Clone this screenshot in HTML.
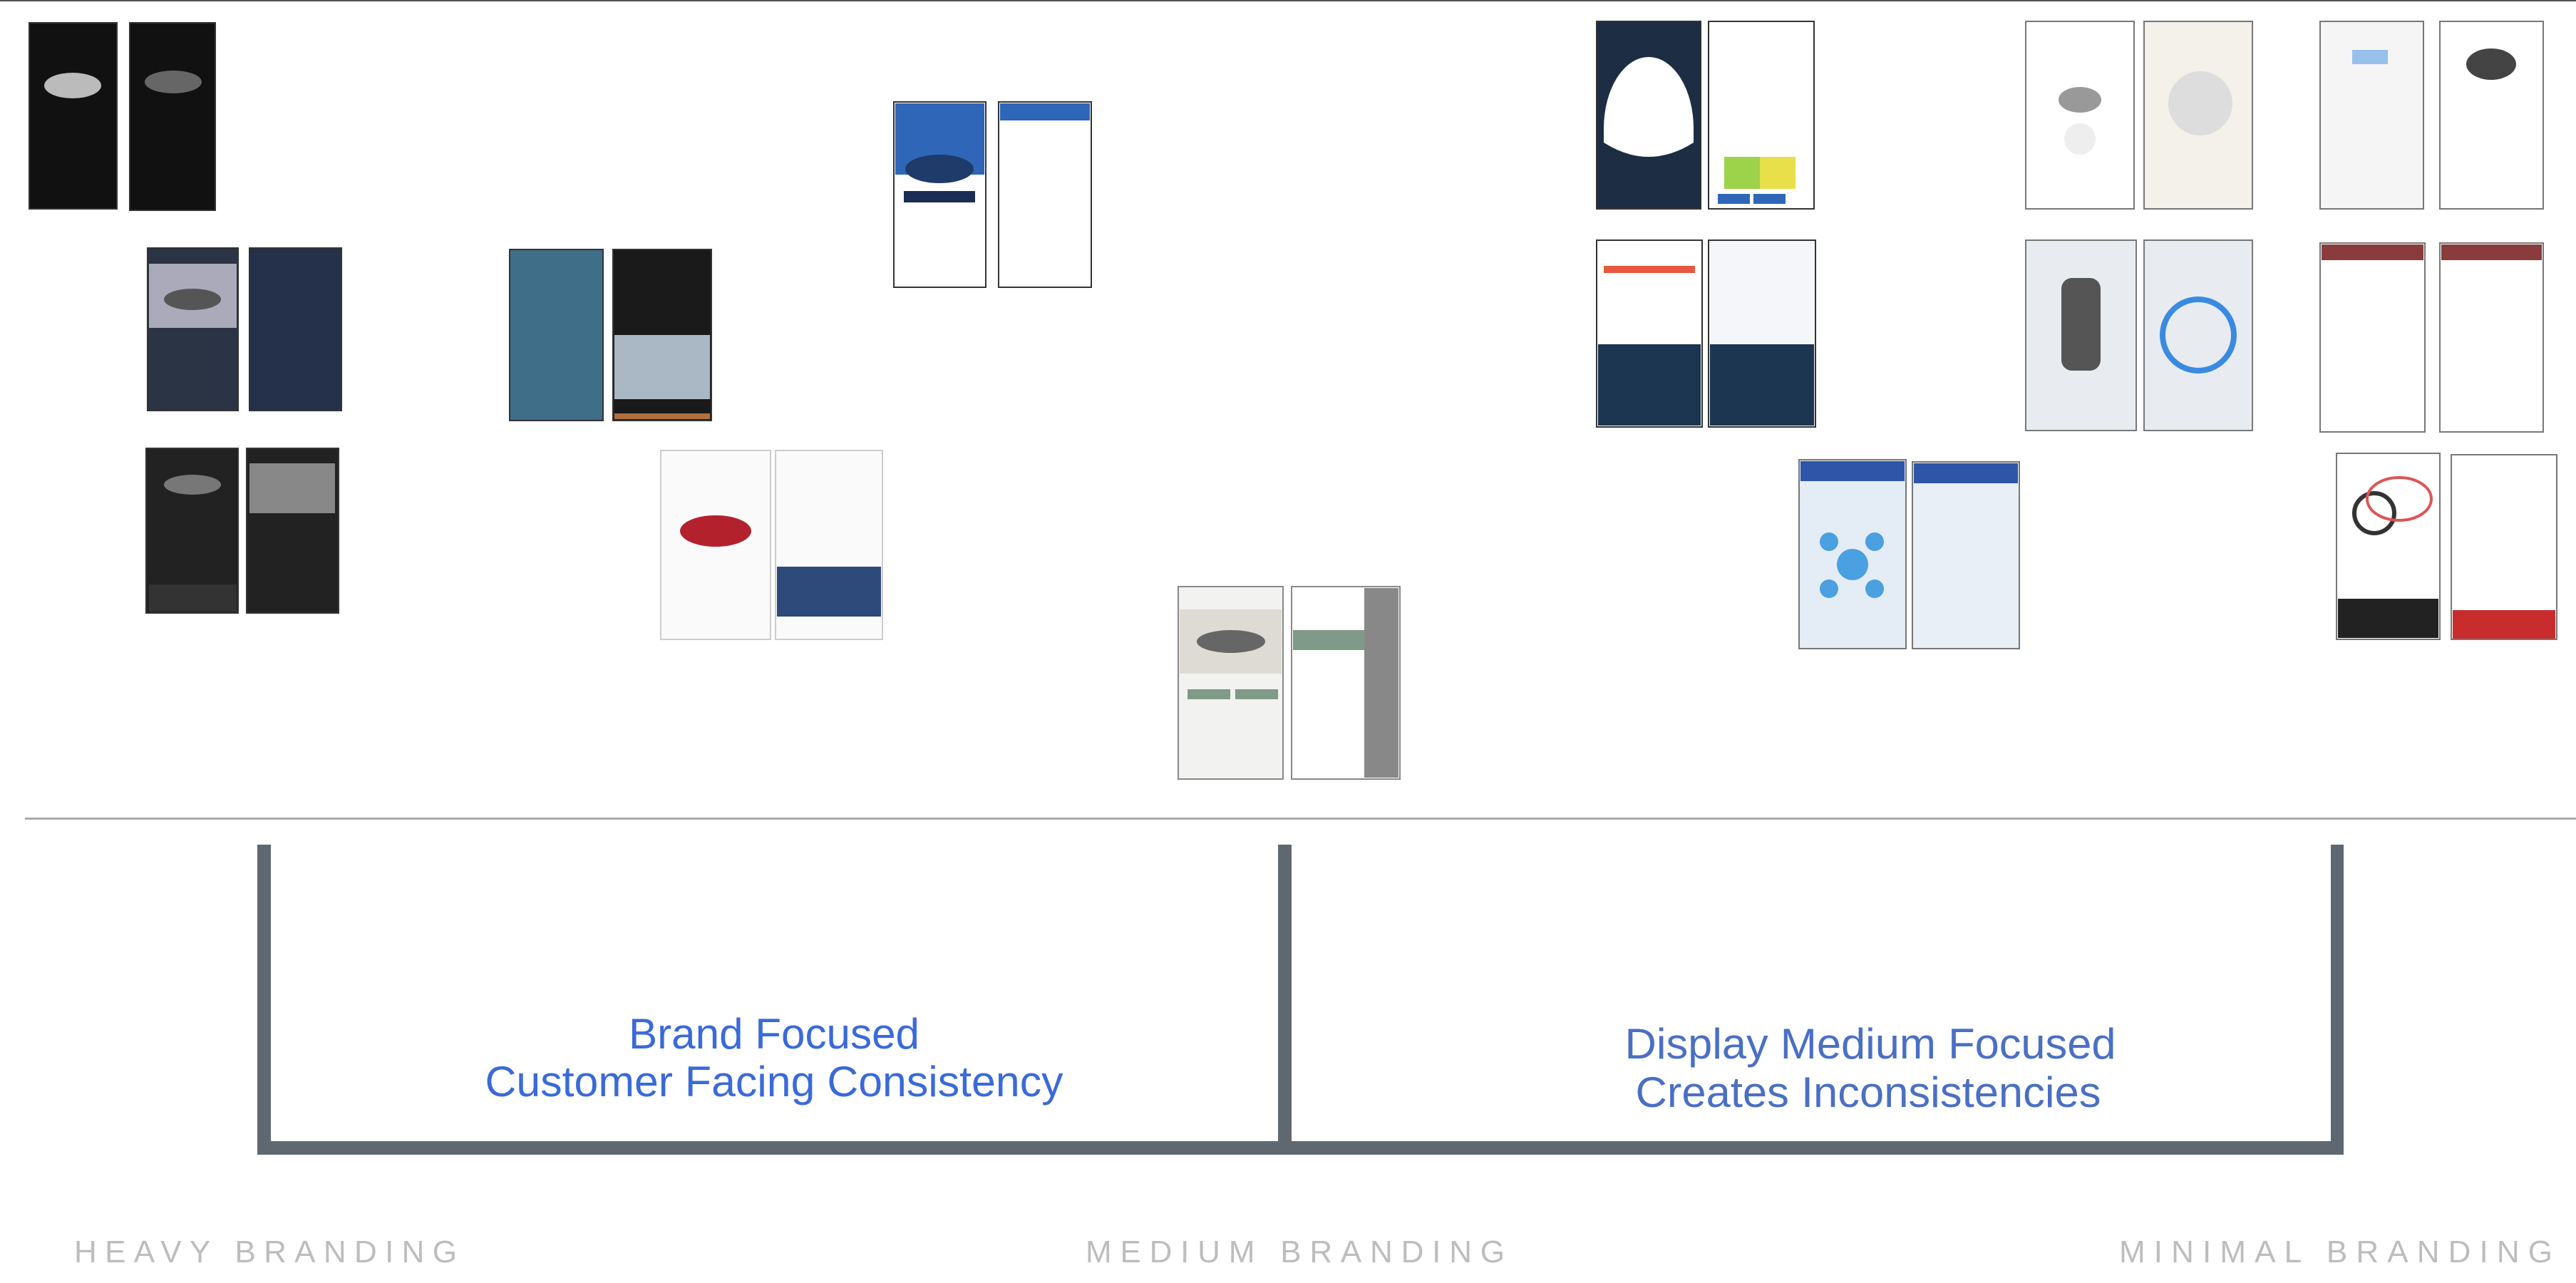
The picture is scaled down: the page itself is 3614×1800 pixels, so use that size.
<!DOCTYPE html>
<html><head><meta charset="utf-8"><style>
html,body{margin:0;padding:0;background:#fff;}
svg{display:block;}
text{font-family:"Liberation Sans",Arial,sans-serif;}
</style></head><body>
<svg width="3614" height="1800" viewBox="0 0 3614 1800" xmlns="http://www.w3.org/2000/svg">
<rect x="0" y="0" width="3614" height="1800" fill="#fff"/>
<rect x="0" y="0" width="3614" height="2" fill="#555"/>

<g stroke="#333" stroke-width="2">
<rect x="41" y="32" width="123" height="261" fill="#111"/>
<rect x="182" y="32" width="120" height="263" fill="#111"/>
<rect x="207" y="348" width="127" height="228" fill="#2b3444"/>
<rect x="350" y="348" width="129" height="228" fill="#25304a"/>
<rect x="715" y="350" width="131" height="240" fill="#3f6e88"/>
<rect x="860" y="350" width="138" height="240" fill="#1a1a1a"/>
<rect x="205" y="629" width="129" height="231" fill="#222"/>
<rect x="346" y="629" width="129" height="231" fill="#222"/>
<rect x="927" y="632" width="154" height="265" fill="#fafafa" stroke="#ccc"/>
<rect x="1088" y="632" width="150" height="265" fill="#fafafa" stroke="#ccc"/>
<rect x="1254" y="143" width="129" height="260" fill="#fff"/>
<rect x="1401" y="143" width="130" height="260" fill="#fff"/>
<rect x="1653" y="823" width="147" height="270" fill="#f2f2f0" stroke="#888"/>
<rect x="1812" y="823" width="152" height="270" fill="#fff" stroke="#888"/>
<rect x="2240" y="30" width="146" height="263" fill="#1c2d44"/>
<rect x="2397" y="30" width="148" height="263" fill="#fff"/>
<rect x="2842" y="30" width="152" height="263" fill="#fff" stroke="#777"/>
<rect x="3008" y="30" width="152" height="263" fill="#f3f1ea" stroke="#777"/>
<rect x="3255" y="30" width="145" height="263" fill="#f5f5f5" stroke="#777"/>
<rect x="3423" y="30" width="145" height="263" fill="#fff" stroke="#777"/>
<rect x="2240" y="337" width="148" height="262" fill="#fff"/>
<rect x="2397" y="337" width="150" height="262" fill="#f4f6f9"/>
<rect x="2842" y="337" width="155" height="267" fill="#e8ecf1" stroke="#777"/>
<rect x="3008" y="337" width="152" height="267" fill="#e8ecf1" stroke="#777"/>
<rect x="3255" y="341" width="147" height="265" fill="#fff" stroke="#777"/>
<rect x="3423" y="341" width="145" height="265" fill="#fff" stroke="#777"/>
<rect x="2524" y="645" width="150" height="265" fill="#e4ecf6" stroke="#777"/>
<rect x="2683" y="648" width="150" height="262" fill="#e8eff7" stroke="#777"/>
<rect x="3278" y="636" width="145" height="261" fill="#fff" stroke="#777"/>
<rect x="3439" y="638" width="148" height="259" fill="#fff" stroke="#777"/>
</g>
<g stroke="none">
<ellipse cx="102" cy="120" rx="40" ry="18" fill="#bbb"/>
<ellipse cx="243" cy="115" rx="40" ry="16" fill="#666"/>
<rect x="209" y="370" width="123" height="90" fill="#aab"/>
<ellipse cx="270" cy="420" rx="40" ry="15" fill="#555"/>
<rect x="209" y="820" width="123" height="38" fill="#333"/>
<ellipse cx="270" cy="680" rx="40" ry="14" fill="#777"/>
<rect x="350" y="650" width="120" height="70" fill="#888"/>
<rect x="862" y="470" width="134" height="90" fill="#aab8c6"/>
<rect x="862" y="580" width="134" height="8" fill="#b07040"/>
<ellipse cx="1004" cy="745" rx="50" ry="22" fill="#b3222c"/>
<rect x="1090" y="795" width="146" height="70" fill="#2e4a7a"/>
<rect x="1256" y="145" width="125" height="100" fill="#2f66b8"/>
<ellipse cx="1318" cy="237" rx="48" ry="20" fill="#1f3b6a"/>
<rect x="1268" y="268" width="100" height="16" fill="#1b2c55"/>
<rect x="1403" y="145" width="126" height="24" fill="#2f66b8"/>
<rect x="1655" y="855" width="143" height="90" fill="#dedad4"/>
<ellipse cx="1727" cy="900" rx="48" ry="16" fill="#666"/>
<rect x="1666" y="967" width="60" height="14" fill="#7f9a88"/>
<rect x="1733" y="967" width="60" height="14" fill="#7f9a88"/>
<rect x="1814" y="884" width="100" height="28" fill="#7f9a88"/>
<rect x="1914" y="825" width="48" height="266" fill="#888"/>
<path d="M2250 180 A63 100 0 1 1 2376 180 L2376 200 Q2313 240 2250 200 Z" fill="#fff"/>
<rect x="2419" y="220" width="50" height="45" fill="#9cd34a"/>
<rect x="2469" y="220" width="50" height="45" fill="#e8e04a"/>
<rect x="2410" y="272" width="45" height="14" fill="#2f66b8"/>
<rect x="2460" y="272" width="45" height="14" fill="#2f66b8"/>
<rect x="2242" y="483" width="144" height="114" fill="#1c3550"/>
<rect x="2399" y="483" width="146" height="114" fill="#1c3550"/>
<rect x="2250" y="373" width="128" height="10" fill="#e9573f"/>
<ellipse cx="2918" cy="140" rx="30" ry="18" fill="#999"/>
<circle cx="2918" cy="195" r="22" fill="#eee"/>
<circle cx="3087" cy="145" r="45" fill="#ddd"/>
<rect x="2892" y="390" width="55" height="130" rx="15" fill="#555"/>
<circle cx="3084" cy="470" r="50" fill="none" stroke="#3a8be0" stroke-width="8"/>
<rect x="3257" y="343" width="143" height="22" fill="#8a3c3c"/>
<rect x="3425" y="343" width="141" height="22" fill="#8a3c3c"/>
<circle cx="3331" cy="720" r="28" fill="none" stroke="#333" stroke-width="6"/>
<rect x="3280" y="840" width="141" height="55" fill="#222"/>
<rect x="3441" y="856" width="144" height="40" fill="#c82c2c"/>
<rect x="2526" y="647" width="146" height="28" fill="#2e55a8"/>
<rect x="2685" y="650" width="146" height="28" fill="#2e55a8"/>
<circle cx="2599" cy="792" r="22" fill="#4aa0e0"/>
<circle cx="2566" cy="760" r="13" fill="#4aa0e0"/>
<circle cx="2630" cy="760" r="13" fill="#4aa0e0"/>
<circle cx="2566" cy="826" r="13" fill="#4aa0e0"/>
<circle cx="2630" cy="826" r="13" fill="#4aa0e0"/>
<ellipse cx="3366" cy="700" rx="45" ry="30" fill="none" stroke="#d55" stroke-width="4"/>
<rect x="3300" y="70" width="50" height="20" fill="#3a8be0" opacity="0.5"/>
<ellipse cx="3495" cy="90" rx="35" ry="22" fill="#444"/>
</g>

<rect x="35" y="1147" width="3579" height="3" fill="#a7abae"/>

<g fill="#5f6871">
<rect x="361" y="1185" width="19" height="435"/>
<rect x="1793" y="1185" width="19" height="435"/>
<rect x="3270" y="1185" width="18" height="435"/>
<rect x="361" y="1601" width="2927" height="19"/>
</g>

<g font-size="60" text-anchor="middle">
<text x="1086" y="1471" fill="#3a6ad9" textLength="408" lengthAdjust="spacingAndGlyphs">Brand Focused</text>
<text x="1086" y="1538" fill="#3a6ad9" textLength="811" lengthAdjust="spacingAndGlyphs">Customer Facing Consistency</text>
<text x="2624" y="1485" fill="#4a6fc4" textLength="689" lengthAdjust="spacingAndGlyphs">Display Medium Focused</text>
<text x="2621" y="1553" fill="#4a6fc4" textLength="653" lengthAdjust="spacingAndGlyphs">Creates Inconsistencies</text>
</g>
<g font-size="44" fill="#bdbdbd">
<text x="104" y="1771" textLength="537" lengthAdjust="spacing">HEAVY BRANDING</text>
<text x="1523" y="1771" textLength="588" lengthAdjust="spacing">MEDIUM BRANDING</text>
<text x="2973" y="1771" textLength="608" lengthAdjust="spacing">MINIMAL BRANDING</text>
</g>
</svg>
</body></html>
